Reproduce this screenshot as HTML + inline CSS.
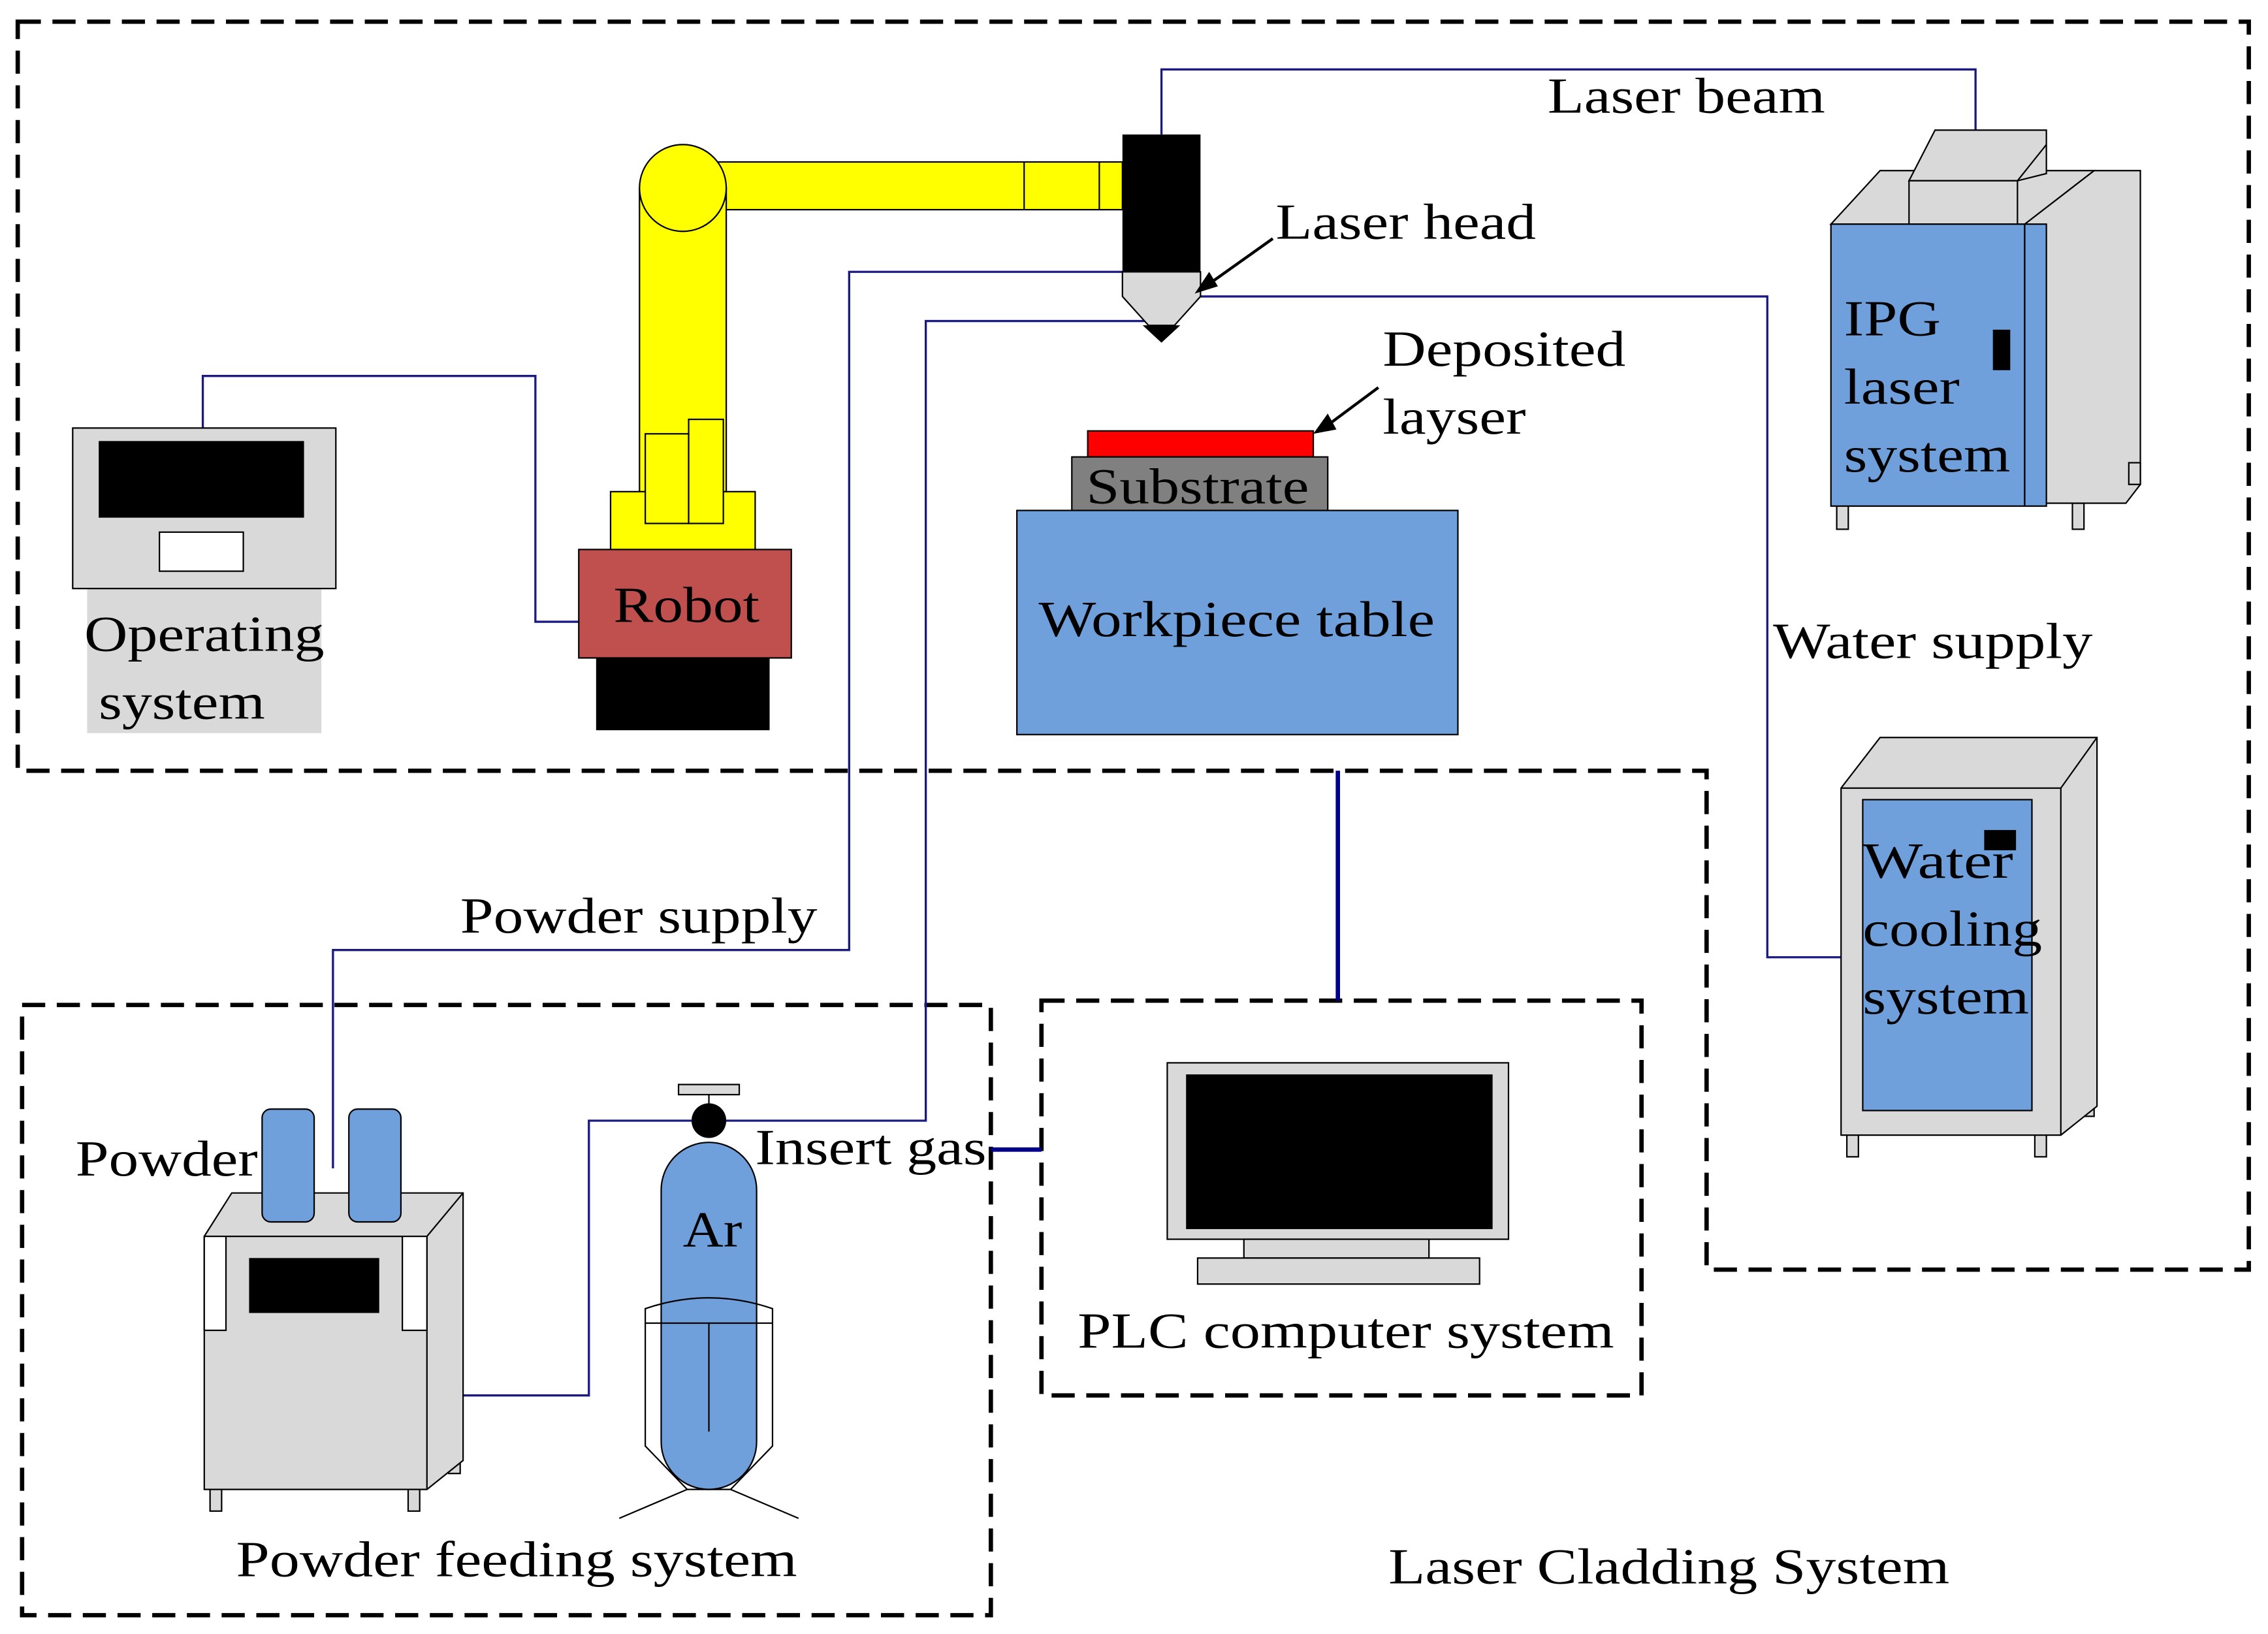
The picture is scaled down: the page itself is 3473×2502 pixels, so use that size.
<!DOCTYPE html>
<html><head><meta charset="utf-8"><style>
html,body{margin:0;padding:0;background:#fff;}
svg{display:block;}
text{font-family:"Liberation Serif",serif;font-size:35px;fill:#000;}
</style></head><body>
<svg width="3473" height="2502" viewBox="0 0 1568 1130" xmlns="http://www.w3.org/2000/svg">
<rect width="1568" height="1130" fill="#fff"/>
<g fill="none" stroke="#000" stroke-width="3" stroke-dasharray="16,8">
<path d="M12,15 H1555 V878 H1180 V533 H12 Z"/>
<rect x="15" y="695" width="670" height="422"/>
<rect x="720" y="692" width="415" height="273"/>
</g>
<g fill="none" stroke="#1a1a80" stroke-width="1.5">
<path d="M803,93 V48 H1366 V92"/>
<path d="M140,296 V260 H370 V430 H400"/>
<path d="M830,205 H1222 V662 H1288"/>
<path d="M776,188 H587 V657 H230 V808"/>
<path d="M795,222 H640 V775 H500"/>
<path d="M320,965 H407 V775 H478"/>
</g>
<g stroke="#00008b" stroke-width="3">
<line x1="925" y1="533" x2="925" y2="692"/>
<line x1="685" y1="795" x2="720" y2="795"/>
</g>
<g stroke="#000" stroke-width="1" fill="#ffff00">
<rect x="470" y="112" width="306" height="33"/>
<line x1="708" y1="112" x2="708" y2="145"/>
<line x1="760" y1="112" x2="760" y2="145"/>
<rect x="442" y="130" width="60" height="212"/>
<rect x="422" y="340" width="100" height="42"/>
<rect x="446" y="300" width="30" height="62"/>
<rect x="476" y="290" width="24" height="72"/>
<circle cx="472" cy="130" r="30"/>
</g>
<rect x="400" y="380" width="147" height="75" fill="#c0504d" stroke="#000"/>
<text x="424" y="430" textLength="101" lengthAdjust="spacingAndGlyphs">Robot</text>
<rect x="412" y="455" width="120" height="50" fill="#000"/>
<rect x="776" y="93" width="54" height="95" fill="#000"/>
<path d="M776,188 H830 V205 L812,225 H794 L776,205 Z" fill="#d9d9d9" stroke="#000"/>
<path d="M790,225 H816 L803,237 Z" fill="#000"/>
<rect x="60" y="407" width="162" height="100" fill="#d9d9d9"/>
<rect x="50" y="296" width="182" height="111" fill="#d9d9d9" stroke="#000"/>
<rect x="68" y="305" width="142" height="53" fill="#000"/>
<rect x="110" y="368" width="58" height="27" fill="#fff" stroke="#000"/>
<text x="58" y="450" textLength="166" lengthAdjust="spacingAndGlyphs">Operating</text>
<text x="68" y="497" textLength="115" lengthAdjust="spacingAndGlyphs">system</text>
<rect x="752" y="298" width="156" height="18" fill="#ff0000" stroke="#000"/>
<rect x="741" y="316" width="177" height="37" fill="#808080" stroke="#000"/>
<text x="751" y="348" textLength="154" lengthAdjust="spacingAndGlyphs">Substrate</text>
<rect x="703" y="353" width="305" height="155" fill="#6fa0dc" stroke="#000"/>
<text x="718" y="440" textLength="274" lengthAdjust="spacingAndGlyphs">Workpiece table</text>
<text x="1070" y="78" textLength="192" lengthAdjust="spacingAndGlyphs">Laser beam</text>
<text x="882" y="165" textLength="180" lengthAdjust="spacingAndGlyphs">Laser head</text>
<line x1="880" y1="165" x2="835" y2="197" stroke="#000" stroke-width="2"/>
<path d="M826,203 L836,188 L842,198 Z" fill="#000"/>
<text x="956" y="253" textLength="168" lengthAdjust="spacingAndGlyphs">Deposited</text>
<text x="956" y="300" textLength="99" lengthAdjust="spacingAndGlyphs">layser</text>
<line x1="953" y1="268" x2="918" y2="294" stroke="#000" stroke-width="2"/>
<path d="M908,300 L918,286 L924,297 Z" fill="#000"/>
<text x="1226" y="455" textLength="221" lengthAdjust="spacingAndGlyphs">Water supply</text>
<text x="318" y="645" textLength="247" lengthAdjust="spacingAndGlyphs">Powder supply</text>
<text x="52" y="813" textLength="126" lengthAdjust="spacingAndGlyphs">Powder</text>
<text x="522" y="805" textLength="160" lengthAdjust="spacingAndGlyphs">Insert gas</text>
<text x="745" y="932" textLength="371" lengthAdjust="spacingAndGlyphs">PLC computer system</text>
<text x="163" y="1090" textLength="388" lengthAdjust="spacingAndGlyphs">Powder feeding system</text>
<text x="960" y="1095" textLength="388" lengthAdjust="spacingAndGlyphs">Laser Cladding System</text>
<g stroke="#000" fill="#d9d9d9">
<rect x="1270" y="348" width="8" height="18"/><rect x="1433" y="348" width="8" height="18"/>
<path d="M1400,155 L1448,118 H1480 V335 L1470,348 H1400 Z"/>
<path d="M1266,155 L1300,118 H1448 L1400,155 Z"/>
<rect x="1472" y="320" width="8" height="15"/>
<path d="M1320,125 L1338,90 H1415 V120 L1395,125 Z"/>
<rect x="1320" y="125" width="75" height="30"/>
<line x1="1395" y1="125" x2="1415" y2="100"/>
<rect x="1266" y="155" width="134" height="195" fill="#6fa0dc"/>
<rect x="1400" y="155" width="15" height="195" fill="#6fa0dc"/>
</g>
<rect x="1378" y="228" width="12" height="28" fill="#000"/>
<text x="1275" y="232" textLength="67" lengthAdjust="spacingAndGlyphs">IPG</text>
<text x="1275" y="279" textLength="80" lengthAdjust="spacingAndGlyphs">laser</text>
<text x="1275" y="326" textLength="115" lengthAdjust="spacingAndGlyphs">system</text>
<g stroke="#000" fill="#d9d9d9">
<rect x="1277" y="783" width="8" height="17"/><rect x="1407" y="783" width="8" height="17"/><rect x="1440" y="758" width="8" height="14"/>
<path d="M1273,545 L1300,510 H1450 V765 L1425,785 H1273 Z"/>
<line x1="1273" y1="545" x2="1425" y2="545"/><line x1="1425" y1="545" x2="1450" y2="510"/><line x1="1425" y1="545" x2="1425" y2="785"/>
<rect x="1288" y="553" width="117" height="215" fill="#6fa0dc"/>
</g>
<rect x="1372" y="574" width="22" height="14" fill="#000"/>
<text x="1288" y="607" textLength="104" lengthAdjust="spacingAndGlyphs">Water</text>
<text x="1288" y="654" textLength="124" lengthAdjust="spacingAndGlyphs">cooling</text>
<text x="1288" y="701" textLength="115" lengthAdjust="spacingAndGlyphs">system</text>
<rect x="807" y="735" width="236" height="122" fill="#d9d9d9" stroke="#000"/>
<rect x="820" y="743" width="212" height="107" fill="#000"/>
<rect x="860" y="857" width="128" height="13" fill="#d9d9d9" stroke="#000"/>
<rect x="828" y="870" width="195" height="18" fill="#d9d9d9" stroke="#000"/>
<g stroke="#000" fill="#d9d9d9">
<rect x="145" y="1028" width="8" height="17"/><rect x="282" y="1028" width="8" height="17"/><rect x="310" y="1005" width="8" height="14"/>
<path d="M141,855 L160,825 H320 V1010 L295,1030 H141 Z"/>
<line x1="141" y1="855" x2="295" y2="855"/><line x1="295" y1="855" x2="320" y2="825"/><line x1="295" y1="855" x2="295" y2="1030"/>
<rect x="141" y="855" width="15" height="65" fill="#fff"/>
<rect x="278" y="855" width="17" height="65" fill="#fff"/>
<rect x="181" y="767" width="36" height="78" rx="6" fill="#6fa0dc"/>
<rect x="241" y="767" width="36" height="78" rx="6" fill="#6fa0dc"/>
</g>
<rect x="172" y="870" width="90" height="38" fill="#000"/>
<g stroke="#000">
<rect x="469" y="750" width="42" height="7" fill="#d9d9d9"/>
<line x1="490" y1="757" x2="490" y2="765"/>
<rect x="457" y="790" width="66" height="240" rx="33" fill="#6fa0dc"/>
<path d="M446,905 Q490,890 534,905 V1000 L505,1030 H475 L446,1000 Z" fill="none"/>
<line x1="446" y1="915" x2="534" y2="915"/>
<line x1="490" y1="915" x2="490" y2="990"/>
<line x1="475" y1="1030" x2="428" y2="1050"/>
<line x1="505" y1="1030" x2="552" y2="1050"/>
</g>
<circle cx="490" cy="775" r="12" fill="#000"/>
<text x="472" y="862" textLength="41" lengthAdjust="spacingAndGlyphs">Ar</text>
</svg>
</body></html>
